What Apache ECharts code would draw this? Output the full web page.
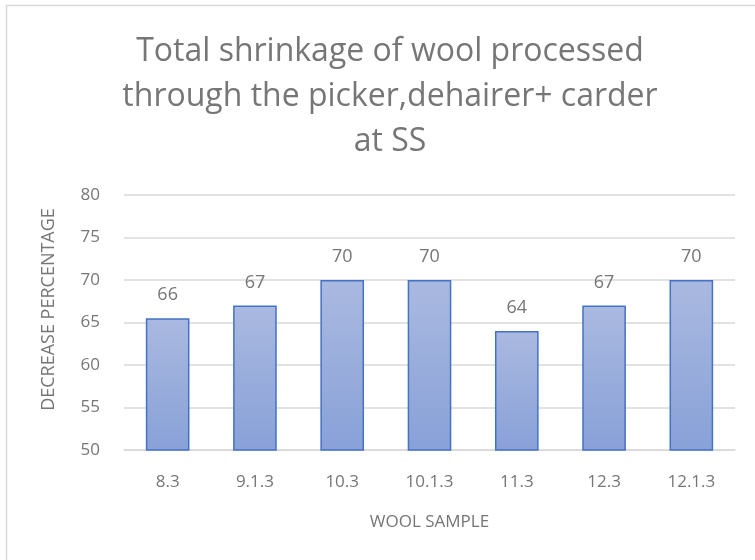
<!DOCTYPE html>
<html>
<head>
<meta charset="utf-8">
<script src="https://cdn.jsdelivr.net/npm/echarts@6/dist/echarts.min.js"></script>
<style>
  html, body { margin: 0; padding: 0; background: #fff; }
  .main { width: 755px; height: 560px; }
</style>
</head>
<body>
<div class="main"></div>
<script>
let samples = ['8.3', '9.1.3', '10.3', '10.1.3', '11.3', '12.3', '12.1.3'];
let shrinkage = [65.5, 67, 70, 70, 64, 67, 70];
let yTicks = [50, 55, 60, 65, 70, 75, 80];

let chartDom = document.querySelector('.main');
let myChart = echarts.init(chartDom);

let grey = '#767676';
let font = 'Open Sans';

let option = {
    backgroundColor: '#fff',
    animation: false,
    title: {
        text: 'Total shrinkage of wool processed\nthrough the picker,dehairer+ carder\nat SS',
        left: 385,
        textAlign: 'center',
        top: 24,
        textStyle: {
            color: grey,
            fontFamily: font,
            fontSize: 32,
            fontWeight: 'normal',
            lineHeight: 45
        }
    },
    // border of the chart area, only top and left are visible
    graphic: [
        { type: 'line', shape: { x1: 6.5, y1: 5, x2: 6.5, y2: 560 }, style: { stroke: '#d9d9d9', lineWidth: 1.5 } },
        { type: 'line', shape: { x1: 6, y1: 5.5, x2: 755, y2: 5.5 }, style: { stroke: '#d9d9d9', lineWidth: 1.5 } }
    ],
    grid: {
        left: 124,
        right: 20,
        top: 195,
        bottom: 110
    },
    xAxis: {
        type: 'category',
        data: samples,
        name: 'WOOL SAMPLE',
        nameLocation: 'middle',
        nameGap: 64,
        nameTextStyle: { color: grey, fontFamily: font, fontSize: 17 },
        axisLine: { lineStyle: { color: '#d9d9d9', width: 1.5 } },
        axisTick: { show: false },
        axisLabel: { color: grey, fontFamily: font, fontSize: 17, margin: 24 }
    },
    yAxis: {
        type: 'value',
        min: yTicks[0],
        max: yTicks[yTicks.length - 1],
        interval: 5,
        name: 'DECREASE PERCENTAGE',
        nameLocation: 'middle',
        nameGap: 66,
        nameTextStyle: { color: grey, fontFamily: font, fontSize: 18, padding: [0, 0, 0, 26] },
        axisLine: { show: false },
        axisTick: { show: false },
        axisLabel: { color: grey, fontFamily: font, fontSize: 17, margin: 24 },
        splitLine: { lineStyle: { color: '#d9d9d9', width: 1.5 } }
    },
    series: [
        {
            type: 'bar',
            data: shrinkage,
            barWidth: '50%',
            itemStyle: {
                color: new echarts.graphic.LinearGradient(0, 0, 0, 1, [
                    { offset: 0, color: '#aab9e0' },
                    { offset: 1, color: '#88a1d8' }
                ]),
                borderColor: '#4472c4',
                borderWidth: 1.5
            },
            label: {
                show: true,
                position: 'top',
                distance: 14,
                color: grey,
                fontFamily: font,
                fontSize: 18,
                formatter: p => Math.round(p.value)
            }
        }
    ]
};

option && myChart.setOption(option);
</script>
</body>
</html>
